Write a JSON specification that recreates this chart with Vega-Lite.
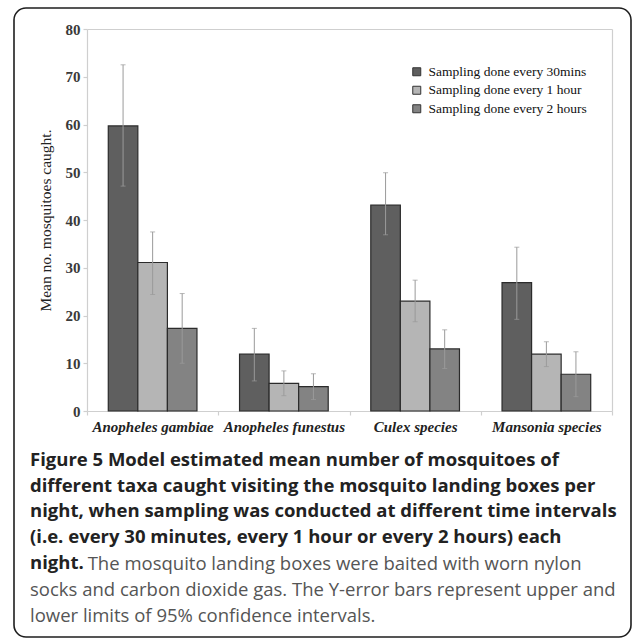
{
  "$schema": "https://vega.github.io/schema/vega-lite/v6.json",
  "autosize": "none",
  "width": 617,
  "height": 629,
  "padding": {"left": 14, "top": 8, "right": 2, "bottom": 1},
  "background": "white",
  "config": {
    "view": {"stroke": "#1e1e1e", "strokeWidth": 1.6, "cornerRadius": 12, "fill": "white"},
    "axis": {"domainWidth": 1.2, "tickWidth": 1.2}
  },
  "title": {
    "text": [
      "Figure 5 Model estimated mean number of mosquitoes of",
      "different taxa caught visiting the mosquito landing boxes per",
      "night, when sampling was conducted at different time intervals",
      "(i.e. every 30 minutes, every 1 hour or every 2 hours) each",
      "night."
    ],
    "subtitle": [
      "\u200b\u00a0\u00a0\u00a0\u00a0\u00a0\u00a0\u00a0\u00a0\u00a0\u00a0\u00a0\u00a0The mosquito landing boxes were baited with worn nylon",
      "socks and carbon dioxide gas. The Y-error bars represent upper and",
      "lower limits of 95% confidence intervals."
    ],
    "orient": "bottom",
    "anchor": "start",
    "frame": "group",
    "offset": -186,
    "dx": 16,
    "font": "Open Sans",
    "fontSize": 18.5,
    "fontWeight": "bold",
    "color": "#222222",
    "lineHeight": 25.7,
    "subtitleFont": "Open Sans",
    "subtitleFontSize": 18.5,
    "subtitleFontWeight": "normal",
    "subtitleColor": "#555555",
    "subtitleLineHeight": 25.7,
    "subtitlePadding": -17
  },
  "data": {
    "values": [
      {"taxon": "Anopheles gambiae", "interval": "Sampling done every 30mins", "mean": 59.7, "lo": 47.1, "hi": 72.5},
      {"taxon": "Anopheles gambiae", "interval": "Sampling done every 1 hour", "mean": 31.1, "lo": 24.4, "hi": 37.5},
      {"taxon": "Anopheles gambiae", "interval": "Sampling done every 2 hours", "mean": 17.3, "lo": 10.0, "hi": 24.6},
      {"taxon": "Anopheles funestus", "interval": "Sampling done every 30mins", "mean": 11.9, "lo": 6.3, "hi": 17.3},
      {"taxon": "Anopheles funestus", "interval": "Sampling done every 1 hour", "mean": 5.8, "lo": 3.2, "hi": 8.4},
      {"taxon": "Anopheles funestus", "interval": "Sampling done every 2 hours", "mean": 5.1, "lo": 2.4, "hi": 7.8},
      {"taxon": "Culex species", "interval": "Sampling done every 30mins", "mean": 43.1, "lo": 36.9, "hi": 49.9},
      {"taxon": "Culex species", "interval": "Sampling done every 1 hour", "mean": 23.0, "lo": 18.7, "hi": 27.4},
      {"taxon": "Culex species", "interval": "Sampling done every 2 hours", "mean": 13.0, "lo": 8.9, "hi": 17.0},
      {"taxon": "Mansonia species", "interval": "Sampling done every 30mins", "mean": 26.9, "lo": 19.2, "hi": 34.3},
      {"taxon": "Mansonia species", "interval": "Sampling done every 1 hour", "mean": 11.9, "lo": 9.3, "hi": 14.5},
      {"taxon": "Mansonia species", "interval": "Sampling done every 2 hours", "mean": 7.7, "lo": 3.0, "hi": 12.4}
    ]
  },
  "resolve": {"axis": {"x": "independent", "y": "independent"}},
  "layer": [
    {
      "mark": {"type": "bar", "stroke": "#2b2b2b", "strokeWidth": 1.2},
      "encoding": {
        "x": {
          "field": "taxon", "type": "nominal",
          "sort": ["Anopheles gambiae", "Anopheles funestus", "Culex species", "Mansonia species"],
          "scale": {"range": [73, 598], "paddingInner": 0, "paddingOuter": 0},
          "axis": {
            "orient": "bottom", "offset": -226, "title": null, "labelAngle": 0,
            "tickBand": "extent", "domainColor": "#cfcfcf", "tickColor": "#cfcfcf", "tickSize": 4,
            "labelFont": "Liberation Serif", "labelFontStyle": "italic", "labelFontWeight": "bold",
            "labelFontSize": 15, "labelColor": "#222222", "labelPadding": 4
          }
        },
        "xOffset": {
          "field": "interval", "type": "nominal",
          "sort": ["Sampling done every 30mins", "Sampling done every 1 hour", "Sampling done every 2 hours"],
          "scale": {"paddingInner": 0, "paddingOuter": 0.72}
        },
        "y": {
          "field": "mean", "type": "quantitative",
          "scale": {"domain": [0, 80], "range": [403, 21], "nice": false},
          "axis": {
            "orient": "left", "offset": -73, "values": [0, 10, 20, 30, 40, 50, 60, 70, 80], "grid": false,
            "domainColor": "#cfcfcf", "tickColor": "#cfcfcf", "tickSize": 4,
            "labelFont": "Liberation Serif", "labelFontSize": 15, "labelFontWeight": "bold", "labelColor": "#3a3a3a", "labelPadding": 3,
            "title": "Mean no. mosquitoes caught.", "titleFont": "Liberation Serif", "titleFontSize": 15.5,
            "titleFontWeight": "normal", "titleColor": "#222222", "titlePadding": 12
          }
        },
        "color": {
          "field": "interval", "type": "nominal",
          "sort": ["Sampling done every 30mins", "Sampling done every 1 hour", "Sampling done every 2 hours"],
          "scale": {"range": ["#5f5f5f", "#b5b5b5", "#838383"]},
          "legend": {
            "title": null, "orient": "none", "legendX": 396, "legendY": 57, "padding": 0,
            "symbolType": "square", "symbolSize": 64, "symbolStrokeColor": "#333333", "symbolStrokeWidth": 1,
            "labelFont": "Liberation Serif", "labelFontSize": 13.5, "labelColor": "#111111",
            "labelOffset": 5, "rowPadding": 3.5, "labelLimit": 300
          }
        }
      }
    },
    {
      "mark": {"type": "rule", "color": "#9a9a9a", "strokeWidth": 1},
      "encoding": {
        "x": {
          "field": "taxon", "type": "nominal",
          "sort": ["Anopheles gambiae", "Anopheles funestus", "Culex species", "Mansonia species"],
          "axis": {"orient": "top", "offset": -21, "title": null, "labels": false, "ticks": false, "domainColor": "#cfcfcf"}
        },
        "xOffset": {
          "field": "interval", "type": "nominal",
          "sort": ["Sampling done every 30mins", "Sampling done every 1 hour", "Sampling done every 2 hours"]
        },
        "y": {
          "field": "lo", "type": "quantitative",
          "axis": {"orient": "right", "offset": -19, "title": null, "labels": false, "ticks": false, "grid": false, "domainColor": "#cfcfcf"}
        },
        "y2": {"field": "hi"}
      }
    },
    {
      "mark": {"type": "tick", "color": "#9a9a9a", "size": 5, "thickness": 1},
      "encoding": {
        "x": {
          "field": "taxon", "type": "nominal",
          "sort": ["Anopheles gambiae", "Anopheles funestus", "Culex species", "Mansonia species"],
          "axis": null
        },
        "xOffset": {
          "field": "interval", "type": "nominal",
          "sort": ["Sampling done every 30mins", "Sampling done every 1 hour", "Sampling done every 2 hours"]
        },
        "y": {"field": "hi", "type": "quantitative", "axis": null}
      }
    },
    {
      "mark": {"type": "tick", "color": "#9a9a9a", "size": 5, "thickness": 1},
      "encoding": {
        "x": {
          "field": "taxon", "type": "nominal",
          "sort": ["Anopheles gambiae", "Anopheles funestus", "Culex species", "Mansonia species"],
          "axis": null
        },
        "xOffset": {
          "field": "interval", "type": "nominal",
          "sort": ["Sampling done every 30mins", "Sampling done every 1 hour", "Sampling done every 2 hours"]
        },
        "y": {"field": "lo", "type": "quantitative", "axis": null}
      }
    }
  ]
}
